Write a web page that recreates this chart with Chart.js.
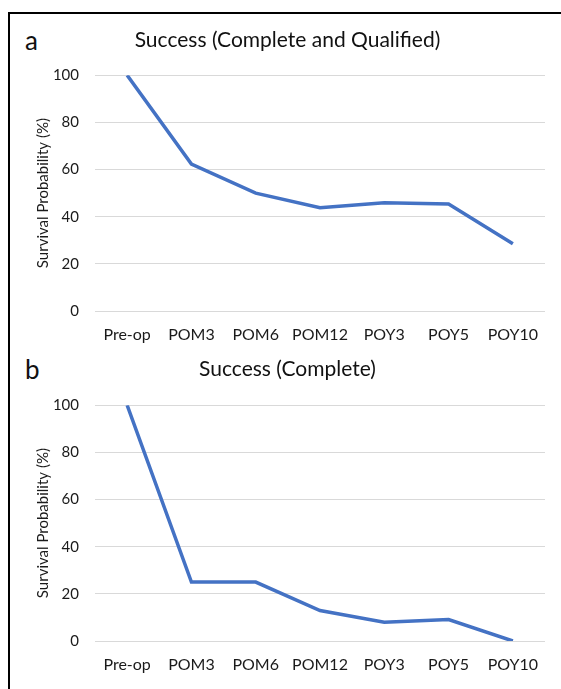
<!DOCTYPE html>
<html>
<head>
<meta charset="utf-8">
<script src="https://cdn.jsdelivr.net/npm/chart.js@4"></script>
<style>
  html, body { margin: 0; padding: 0; background: #fff; overflow: hidden; }
  body { width: 561px; height: 689px; position: relative; font-family: Lato, "Open Sans", sans-serif; }
  .frame { position: absolute; left: 8px; top: 12px; width: 600px; height: 720px; border: 2px solid #000; box-sizing: border-box; }
  .letter { position: absolute; left: 25px; font-size: 26px; color: #111; line-height: 1; }
  .box { position: absolute; left: 0; width: 561px; }
</style>
</head>
<body>
<div class="frame"></div>
<div class="letter" style="top:27px;">a</div>
<div class="letter" style="top:356px;">b</div>
<div class="box" id="boxA" style="top:15px; height:340px;"><canvas id="chartA"></canvas></div>
<div class="box" id="boxB" style="top:344px; height:341px;"><canvas id="chartB"></canvas></div>
<script>
const timepoints = ['Pre-op', 'POM3', 'POM6', 'POM12', 'POY3', 'POY5', 'POY10'];
const completeAndQualified = [100, 62.3, 50, 43.8, 45.9, 45.4, 28.5];
const completeOnly = [100, 25, 25, 12.9, 8, 9.1, 0];
const yTicks = [0, 20, 40, 60, 80, 100];

const lineColor = '#4472c4';
const gridColor = '#d9d9d9';
const textColor = '#1a1a1a';

function makeChart(canvasId, title, values, titlePad) {
  return new Chart(document.getElementById(canvasId), {
    type: 'line',
    data: {
      labels: timepoints,
      datasets: [{
        data: values,
        borderColor: lineColor,
        borderWidth: 3.5,
        pointRadius: 0,
        tension: 0,
        fill: false
      }]
    },
    options: {
      responsive: true,
      maintainAspectRatio: false,
      animation: false,
      layout: { padding: { left: 30, right: 16, top: 0, bottom: 0 } },
      plugins: {
        legend: { display: false },
        tooltip: { enabled: false },
        title: {
          display: true,
          text: title,
          color: '#111',
          font: { family: 'Lato', size: 21, weight: 'normal' },
          padding: titlePad
        }
      },
      scales: {
        x: {
          offset: true,
          grid: { display: false },
          border: { display: false },
          ticks: {
            color: textColor,
            font: { family: 'Lato', size: 16 },
            padding: 6,
            maxRotation: 0,
            autoSkip: false
          },
          afterFit: (scale) => { scale.height = 44; }
        },
        y: {
          min: 0,
          max: 100,
          afterBuildTicks: (scale) => { scale.ticks = yTicks.map(v => ({ value: v })); },
          grid: { color: gridColor, lineWidth: 1, drawTicks: false },
          border: { display: false },
          ticks: {
            color: textColor,
            font: { family: 'Lato', size: 15 },
            padding: 16
          },
          title: {
            display: true,
            text: 'Survival Probability (%)',
            color: textColor,
            font: { family: 'Lato', size: 15 },
            padding: { top: 4, bottom: 4 }
          },
          afterFit: (scale) => { scale.width = 65; }
        }
      }
    }
  });
}

makeChart('chartA', 'Success (Complete and Qualified)', completeAndQualified, { top: 13, bottom: 22 });
makeChart('chartB', 'Success (Complete)', completeOnly, { top: 13, bottom: 23 });
</script>
</body>
</html>
